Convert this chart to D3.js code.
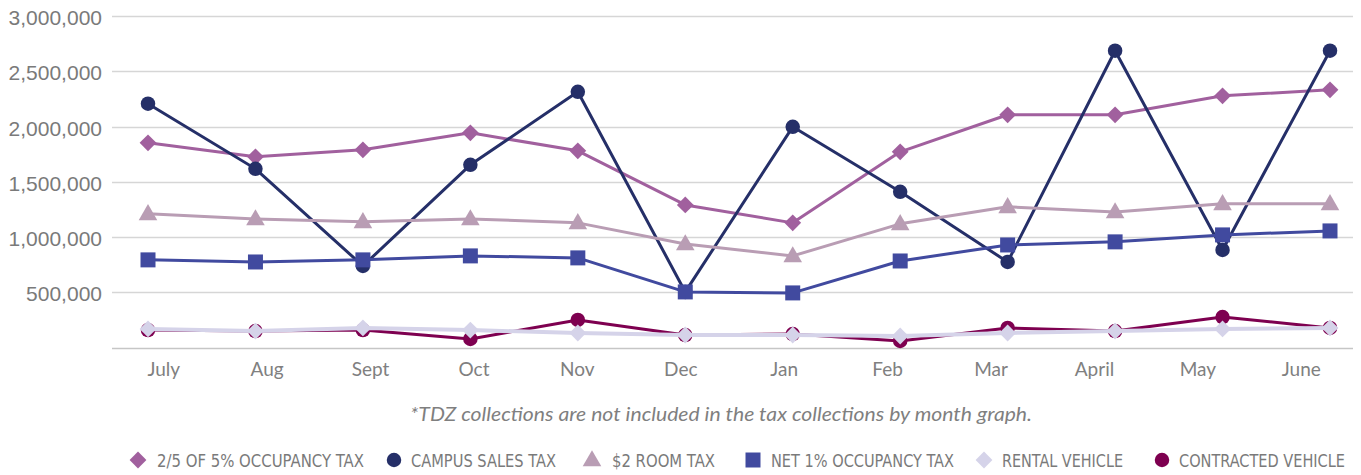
<!DOCTYPE html>
<html>
<head>
<meta charset="utf-8">
<script src="https://cdn.jsdelivr.net/npm/d3@7"></script>
<style>
  body { margin: 0; background: #fff; }
  svg { display: block; }
</style>
</head>
<body>
<div id="chart"></div>
<script>
// tax collections by month
const months = ['July', 'Aug', 'Sept', 'Oct', 'Nov', 'Dec', 'Jan', 'Feb', 'Mar', 'April', 'May', 'June'];
const yTicks = [500000, 1000000, 1500000, 2000000, 2500000, 3000000];

const occupancy25 = [1852000, 1726000, 1789000, 1943000, 1780000, 1290000, 1128000, 1771000, 2106000, 2106000, 2278000, 2332000];
const campusSales = [2206000, 1617000, 738000, 1653000, 2314000, 503000, 1997000, 1409000, 774000, 2686000, 883000, 2686000];
const roomTax = [1210000, 1164000, 1137000, 1164000, 1128000, 937000, 829000, 1119000, 1273000, 1227000, 1300000, 1300000];
const net1Occupancy = [793000, 774000, 793000, 829000, 811000, 503000, 494000, 783000, 928000, 956000, 1019000, 1055000];
const rentalVehicle = [168000, 149000, 177000, 158000, 131000, 113000, 113000, 104000, 131000, 149000, 168000, 177000];
const contractedVehicle = [158000, 149000, 158000, 77000, 249000, 113000, 122000, 59000, 177000, 149000, 276000, 177000];

const seriesNames = ['2/5 OF 5% OCCUPANCY TAX', 'CAMPUS SALES TAX', '$2 ROOM TAX', 'NET 1% OCCUPANCY TAX', 'RENTAL VEHICLE', 'CONTRACTED VEHICLE'];

const series = [
    { name: seriesNames[0], values: occupancy25, color: '#a1609e', shape: 'diamond' },
    { name: seriesNames[1], values: campusSales, color: '#252f68', shape: 'circle' },
    { name: seriesNames[2], values: roomTax, color: '#b99db4', shape: 'triangle' },
    { name: seriesNames[3], values: net1Occupancy, color: '#414a9f', shape: 'square' },
    { name: seriesNames[4], values: rentalVehicle, color: '#d5d3e9', shape: 'diamond' },
    { name: seriesNames[5], values: contractedVehicle, color: '#7e0050', shape: 'circle' }
];

// drawing order (rental markers sit on top of contracted ones)
const drawOrder = [0, 1, 2, 3, 5, 4];

const width = 1361, height = 475;

const svg = d3.select('#chart')
    .append('svg')
    .attr('width', width)
    .attr('height', height);

const y = d3.scaleLinear()
    .domain([0, 3000000])
    .range([347.5, 16]);

// label slots and marker positions
const xBand = d3.scaleBand()
    .domain(months)
    .range([112, 1353]);

const x = d3.scalePoint()
    .domain(months)
    .range([148, 1330]);

// gridlines
svg.append('g')
    .selectAll('line')
    .data([0].concat(yTicks))
    .enter()
    .append('line')
    .attr('x1', 112)
    .attr('x2', 1353)
    .attr('y1', (d) => Math.round(y(d)) + 0.5)
    .attr('y2', (d) => Math.round(y(d)) + 0.5)
    .attr('stroke', (d) => d === 0 ? '#c6c6c6' : '#d6d6d6')
    .attr('stroke-width', 1.5);

// y axis labels
const yAxis = d3.axisLeft(y)
    .tickValues(yTicks)
    .tickSize(0)
    .tickPadding(0)
    .tickFormat(d3.format(','));

svg.append('g')
    .attr('transform', 'translate(102,2)')
    .call(yAxis)
    .call((g) => g.select('.domain').remove())
    .selectAll('text')
    .attr('fill', '#7a7a7a')
    .style('font-family', '"Liberation Sans", Arial, sans-serif')
    .style('font-size', '21px');

// x axis labels
const xAxis = d3.axisBottom(xBand)
    .tickSize(0)
    .tickPadding(0);

svg.append('g')
    .attr('transform', 'translate(0,362)')
    .call(xAxis)
    .call((g) => g.select('.domain').remove())
    .selectAll('text')
    .attr('fill', '#808080')
    .style('font-family', 'Lato, "Noto Sans", sans-serif')
    .style('font-size', '19px');

const symbolType = {
    diamond: d3.symbolDiamond2,
    circle: d3.symbolCircle,
    triangle: d3.symbolTriangle,
    square: d3.symbolSquare
};
const symbolSize = { diamond: 180, circle: 165, triangle: 150, square: 225 };

function symbolPath(shape) {
    let sym = d3.symbol().type(symbolType[shape]).size(symbolSize[shape]);
    return sym();
}

const line = d3.line()
    .x((d, i) => x(months[i]))
    .y((d) => y(d));

drawOrder.forEach(function (k) {
    const s = series[k];
    const g = svg.append('g');

    g.append('path')
        .datum(s.values)
        .attr('d', line)
        .attr('fill', 'none')
        .attr('stroke', s.color)
        .attr('stroke-width', s.name === 'RENTAL VEHICLE' ? 4 : 3)
        .attr('stroke-linejoin', 'round');

    g.selectAll('path.marker')
        .data(s.values)
        .enter()
        .append('path')
        .attr('class', 'marker')
        .attr('d', symbolPath(s.shape))
        .attr('transform', (d, i) => 'translate(' + x(months[i]) + ',' + (y(d) + (s.shape === 'triangle' ? 1 : 0)) + ')')
        .attr('fill', s.color);
});

// footnote
svg.append('text')
    .attr('x', 410)
    .attr('y', 421)
    .attr('textLength', 622)
    .attr('lengthAdjust', 'spacingAndGlyphs')
    .attr('fill', '#7f7f7f')
    .style('font-family', 'Lato, "Noto Sans", sans-serif')
    .style('font-style', 'italic')
    .style('font-size', '19px')
    .text('*TDZ collections are not included in the tax collections by month graph.');

// legend
const legendMarkerX = [138, 394, 592, 753, 984, 1162];
const legendTextX = [157, 411, 612, 771, 1002, 1179];
const legendTextW = [207, 145, 103, 183, 121, 166];

const legend = svg.append('g')
    .selectAll('g')
    .data(series)
    .enter()
    .append('g');

legend.append('path')
    .attr('d', (d) => symbolPath(d.shape))
    .attr('transform', (d, i) => 'translate(' + legendMarkerX[i] + ',' + (d.shape === 'triangle' ? 461 : 460) + ')')
    .attr('fill', (d) => d.color);

legend.append('text')
    .attr('x', (d, i) => legendTextX[i])
    .attr('y', 467)
    .attr('textLength', (d, i) => legendTextW[i])
    .attr('lengthAdjust', 'spacingAndGlyphs')
    .attr('fill', '#7a7a7a')
    .style('font-family', '"Liberation Sans Narrow", "DejaVu Sans Condensed", sans-serif')
    .style('font-size', '18px')
    .text((d) => d.name);
</script>
</body>
</html>
